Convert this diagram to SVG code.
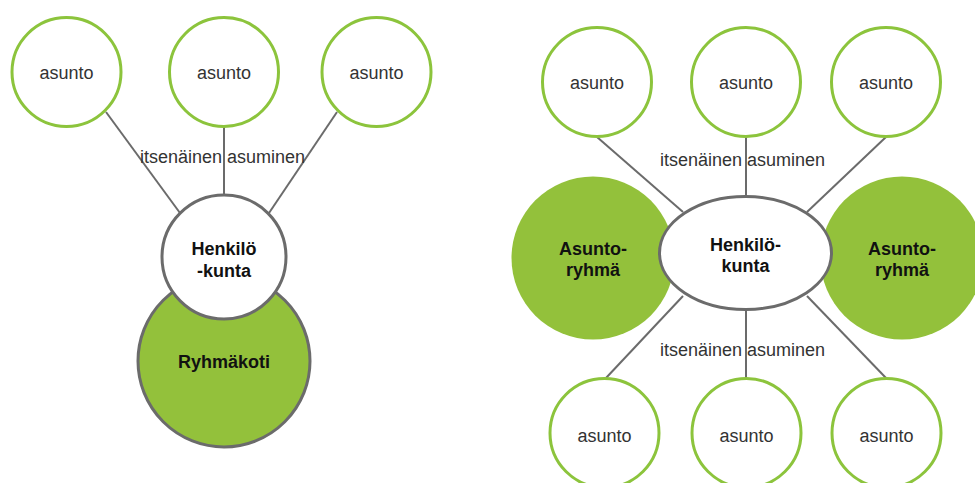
<svg xmlns="http://www.w3.org/2000/svg" width="975" height="483" viewBox="0 0 975 483">
<style>
.asunto{fill:#fff;stroke:#8cc43c;stroke-width:3}
.green{fill:#93c13b}
.hub{fill:#fff;stroke:#6b6b6b;stroke-width:3}
.edge{stroke:#6b6b6b;stroke-width:2;fill:none}
.t{font-family:"Liberation Sans",Arial,sans-serif;font-size:18px;fill:#333;text-anchor:middle}
.b{font-family:"Liberation Sans",Arial,sans-serif;font-size:18px;font-weight:bold;fill:#111;text-anchor:middle}
</style>
<rect width="975" height="483" fill="#fff"/>
<g id="connectors">
<line class="edge" x1="106" y1="112" x2="180" y2="213"/>
<line class="edge" x1="224" y1="127" x2="224" y2="195"/>
<line class="edge" x1="337" y1="112" x2="269" y2="213"/>
<line class="edge" x1="597" y1="137" x2="683" y2="212"/>
<line class="edge" x1="746" y1="137" x2="746" y2="196"/>
<line class="edge" x1="886" y1="137" x2="807" y2="212"/>
<line class="edge" x1="683" y1="296" x2="606" y2="378"/>
<line class="edge" x1="746" y1="310" x2="746" y2="378"/>
<line class="edge" x1="807" y1="296" x2="886" y2="378"/>
<text class="t" x="222.5" y="163">itsenäinen asuminen</text>
<text class="t" x="742.5" y="166">itsenäinen asuminen</text>
<text class="t" x="742.5" y="356">itsenäinen asuminen</text>
</g>
<g id="l-asunto1"><circle class="asunto" cx="66.5" cy="72" r="54.5"/><text class="t" x="66.5" y="79">asunto</text></g>
<g id="l-asunto2"><circle class="asunto" cx="224" cy="72" r="54.5"/><text class="t" x="224" y="79">asunto</text></g>
<g id="l-asunto3"><circle class="asunto" cx="376.5" cy="72" r="54.5"/><text class="t" x="376.5" y="79">asunto</text></g>
<g id="l-ryhmakoti"><circle class="green" cx="224" cy="361" r="86" stroke="#6b6b6b" stroke-width="3"/><text class="b" x="224" y="368">Ryhmäkoti</text></g>
<g id="l-henkilokunta"><circle class="hub" cx="224" cy="257" r="62"/><text class="b" x="224" y="255">Henkilö</text><text class="b" x="224" y="277">-kunta</text></g>
<g id="r-asunto-top1"><circle class="asunto" cx="597" cy="82" r="54.5"/><text class="t" x="597" y="89">asunto</text></g>
<g id="r-asunto-top2"><circle class="asunto" cx="746" cy="82" r="54.5"/><text class="t" x="746" y="89">asunto</text></g>
<g id="r-asunto-top3"><circle class="asunto" cx="886" cy="82" r="54.5"/><text class="t" x="886" y="89">asunto</text></g>
<g id="r-ryhma-left"><circle class="green" cx="593" cy="258" r="81.5"/><text class="b" x="593" y="255">Asunto-</text><text class="b" x="593" y="276">ryhmä</text></g>
<g id="r-ryhma-right"><circle class="green" cx="902" cy="258" r="81.5"/><text class="b" x="902" y="255">Asunto-</text><text class="b" x="902" y="276">ryhmä</text></g>
<g id="r-henkilokunta"><ellipse class="hub" cx="745.5" cy="253" rx="86" ry="56.5"/><text class="b" x="745.5" y="251">Henkilö-</text><text class="b" x="745.5" y="272">kunta</text></g>
<g id="r-asunto-bot1"><circle class="asunto" cx="604.5" cy="433" r="54.5"/><text class="t" x="604.5" y="442">asunto</text></g>
<g id="r-asunto-bot2"><circle class="asunto" cx="746.5" cy="433" r="54.5"/><text class="t" x="746.5" y="442">asunto</text></g>
<g id="r-asunto-bot3"><circle class="asunto" cx="886.5" cy="433" r="54.5"/><text class="t" x="886.5" y="442">asunto</text></g>
</svg>
